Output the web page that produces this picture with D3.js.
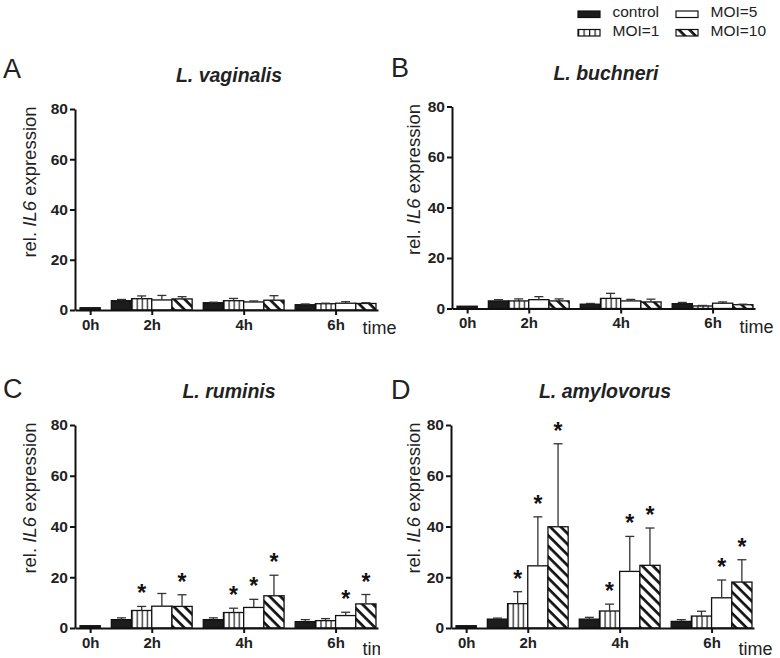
<!DOCTYPE html>
<html><head><meta charset="utf-8">
<script src="https://cdn.jsdelivr.net/npm/d3@7"></script>
<style>
body{margin:0;background:#fff}
svg{display:block;font-family:Arial,"Liberation Sans",sans-serif}
</style>
</head><body>
<svg id="chart" width="780" height="658"></svg>
<script>
// ---------------- data ----------------
const timeLabels = ["0h", "2h", "4h", "6h"];
const seriesNames = ["control", "MOI=1", "MOI=5", "MOI=10"];
const speciesTitles = ["L. vaginalis", "L. buchneri", "L. ruminis", "L. amylovorus"];
const panelLetters = ["A", "B", "C", "D"];
const yTickValues = [0, 20, 40, 60, 80];
const xAxisName = "time";

// rows: control, MOI=1, MOI=5, MOI=10 ; columns: 0h, 2h, 4h, 6h (null = not measured)
const vaginalisMean = [[0.9, 3.7, 2.9, 2.1], [null, 4.5, 3.7, 2.5], [null, 4.0, 3.2, 2.7], [null, 4.4, 3.9, 2.6]];
const vaginalisSD   = [[0.0, 0.5, 0.2, 0.3], [null, 1.1, 0.9, 0.2], [null, 1.8, 0.4, 0.6], [null, 0.9, 1.8, 0.3]];
const vaginalisSig  = [[0, 0, 0, 0], [0, 0, 0, 0], [0, 0, 0, 0], [0, 0, 0, 0]];

const buchneriMean = [[0.9, 3.0, 1.7, 1.9], [null, 3.0, 4.0, 1.0], [null, 3.5, 3.0, 2.1], [null, 3.0, 2.6, 1.5]];
const buchneriSD   = [[0.0, 0.5, 0.3, 0.5], [null, 0.8, 2.0, 0.2], [null, 1.2, 0.6, 0.5], [null, 0.8, 1.1, 0.2]];
const buchneriSig  = [[0, 0, 0, 0], [0, 0, 0, 0], [0, 0, 0, 0], [0, 0, 0, 0]];

const ruminisMean = [[0.9, 3.3, 3.3, 2.5], [null, 6.9, 6.1, 2.9], [null, 8.6, 8.1, 4.9], [null, 8.5, 12.7, 9.5]];
const ruminisSD   = [[0.0, 0.7, 0.7, 0.8], [null, 1.6, 1.7, 0.8], [null, 5.0, 3.2, 1.3], [null, 4.6, 8.1, 3.7]];
const ruminisSig  = [[0, 0, 0, 0], [0, 1, 1, 0], [0, 0, 1, 1], [0, 1, 1, 1]];

const amylovorusMean = [[0.9, 3.5, 3.5, 2.6], [null, 9.6, 6.7, 4.7], [null, 24.5, 22.3, 11.9], [null, 39.9, 24.7, 18.1]];
const amylovorusSD   = [[0.0, 0.4, 0.7, 0.7], [null, 4.7, 2.7, 1.9], [null, 19.3, 13.8, 7.0], [null, 32.7, 14.7, 8.8]];
const amylovorusSig  = [[0, 0, 0, 0], [0, 1, 1, 0], [0, 1, 1, 1], [0, 1, 1, 1]];

// ---------------- layout ----------------
const panels = [
  {mean: vaginalisMean, sd: vaginalisSD, sig: vaginalisSig, axisX: 75, y0: 310, y80: 109, letterX: 3, letterY: 78, labelX: 36, clipR: null, timeDy: 24},
  {mean: buchneriMean, sd: buchneriSD, sig: buchneriSig, axisX: 452, y0: 308.5, y80: 106.5, letterX: 391, letterY: 77, labelX: 420, clipR: null, timeDy: 24},
  {mean: ruminisMean, sd: ruminisSD, sig: ruminisSig, axisX: 75, y0: 628, y80: 425, letterX: 3, letterY: 398, labelX: 36, clipR: 380, timeDy: 27},
  {mean: amylovorusMean, sd: amylovorusSD, sig: amylovorusSig, axisX: 451, y0: 628, y80: 425, letterX: 391, letterY: 399, labelX: 420, clipR: null, timeDy: 27}
];
const BAR_PX = 20.2;
const GAP = 0.55;           // gap between time groups, in bar widths
const X_MIN = -0.25, X_MAX = 14.75;
const INK = "#111";

const svg = d3.select("#chart");
const defs = svg.append("defs");

// vertical stripes (MOI=1)
const vp = defs.append("pattern").attr("id", "vstripe")
  .attr("patternUnits", "objectBoundingBox").attr("width", 0.25).attr("height", 1);
vp.append("rect").attr("width", 100).attr("height", 3000).attr("fill", "#fff");
vp.append("line").attr("x1", 0.6).attr("x2", 0.6).attr("y1", 0).attr("y2", 3000)
  .attr("stroke", INK).attr("stroke-width", 1.2);

// diagonal hatching (MOI=10)
const HS = 7.5;
const hp = defs.append("pattern").attr("id", "hatch")
  .attr("patternUnits", "userSpaceOnUse").attr("width", HS).attr("height", HS)
  .attr("patternTransform", "rotate(-45)");
hp.append("rect").attr("width", HS).attr("height", HS).attr("fill", "#fff");
hp.append("line").attr("x1", 1.5).attr("x2", 1.5).attr("y1", -1).attr("y2", HS + 1)
  .attr("stroke", INK).attr("stroke-width", 2.7);

const fills = ["#1c1c1c", "url(#vstripe)", "#ffffff", "url(#hatch)"];

function groupStart(t) { return t === 0 ? 0 : 1 + GAP + (t - 1) * (4 + GAP); }
function groupCenter(t) { return t === 0 ? 0.5 : groupStart(t) + 2; }

panels.forEach((p, pi) => {
  const g = svg.append("g");
  if (p.clipR) {
    defs.append("clipPath").attr("id", "clip" + pi).append("rect")
      .attr("x", 0).attr("y", 0).attr("width", p.clipR).attr("height", 658);
    g.attr("clip-path", "url(#clip" + pi + ")");
  }
  const x = d3.scaleLinear().domain([X_MIN, X_MAX])
    .range([p.axisX, p.axisX + (X_MAX - X_MIN) * BAR_PX]);
  const y = d3.scaleLinear().domain([0, 80]).range([p.y0, p.y80]);

  // build bar records
  const bars = [];
  p.mean.forEach((row, s) => row.forEach((v, t) => {
    if (v == null) return;
    const slot = t === 0 ? 0 : groupStart(t) + s;
    bars.push({s, t, v, sd: p.sd[s][t], sig: p.sig[s][t], slot});
  }));

  // bars
  g.selectAll("rect.bar").data(bars).join("rect").attr("class", "bar")
    .attr("x", d => x(d.slot)).attr("width", d => x(d.slot + 1) - x(d.slot))
    .attr("y", d => y(d.v)).attr("height", d => y(0) - y(d.v))
    .attr("fill", d => fills[d.s]).attr("stroke", INK).attr("stroke-width", 1.3);

  // error bars (upper only)
  const eb = g.selectAll("g.err").data(bars.filter(d => d.sd > 0)).join("g").attr("class", "err")
    .attr("stroke", "#333").attr("stroke-width", 1.3);
  eb.append("line")
    .attr("x1", d => x(d.slot + 0.5)).attr("x2", d => x(d.slot + 0.5))
    .attr("y1", d => y(d.v)).attr("y2", d => y(d.v + d.sd));
  eb.append("line")
    .attr("x1", d => x(d.slot + 0.5) - 4.5).attr("x2", d => x(d.slot + 0.5) + 4.5)
    .attr("y1", d => y(d.v + d.sd)).attr("y2", d => y(d.v + d.sd));

  // significance stars
  g.selectAll("text.star").data(bars.filter(d => d.sig)).join("text").attr("class", "star")
    .attr("x", d => x(d.slot + 0.5)).attr("y", d => y(d.v + d.sd) - 5)
    .attr("text-anchor", "middle").attr("font-size", 23).attr("font-weight", "bold")
    .attr("fill", INK).text("*");

  // y axis
  const ya = g.append("g").attr("transform", `translate(${p.axisX},0)`)
    .call(d3.axisLeft(y).tickValues(yTickValues).tickSize(5).tickSizeOuter(0).tickPadding(2));
  ya.select(".domain").attr("stroke", INK).attr("stroke-width", 2);
  ya.selectAll(".tick line").attr("stroke", INK).attr("stroke-width", 2);
  ya.selectAll(".tick text").attr("font-size", 15.5).attr("font-weight", "bold")
    .attr("font-family", "Arial, 'Liberation Sans', sans-serif").attr("fill", "#222");

  // x axis
  const xa = g.append("g").attr("transform", `translate(0,${p.y0})`)
    .call(d3.axisBottom(x).tickValues(timeLabels.map((_, t) => groupCenter(t)))
      .tickFormat((d, i) => timeLabels[i]).tickSize(5).tickSizeOuter(0).tickPadding(4));
  xa.select(".domain").attr("stroke", INK).attr("stroke-width", 2);
  xa.selectAll(".tick line").attr("stroke", INK).attr("stroke-width", 2);
  xa.selectAll(".tick text").attr("font-size", 15).attr("font-weight", "bold")
    .attr("font-family", "Arial, 'Liberation Sans', sans-serif").attr("fill", "#222");

  // "time" label
  g.append("text").attr("x", x(groupCenter(3)) + 27).attr("y", p.y0 + p.timeDy)
    .attr("font-size", 18).attr("fill", "#222").text(xAxisName);

  // y label
  const yl = g.append("text")
    .attr("transform", `translate(${p.labelX},${p.y80 + 73}) rotate(-90)`)
    .attr("text-anchor", "middle").attr("font-size", 18.5).attr("fill", "#222");
  yl.append("tspan").text("rel. ");
  yl.append("tspan").attr("font-style", "italic").text("IL6");
  yl.append("tspan").text(" expression");

  // title
  g.append("text").attr("x", p.axisX + 154).attr("y", p.y80 - 27)
    .attr("text-anchor", "middle").attr("font-size", 19.5).attr("font-weight", "bold")
    .attr("font-style", "italic").attr("fill", "#222").text(speciesTitles[pi]);

  // panel letter
  svg.append("text").attr("x", p.letterX).attr("y", p.letterY)
    .attr("font-size", 27).attr("fill", "#222").text(panelLetters[pi]);
});

// legend
const legendPos = [[578, 11], [578, 29.5], [676, 11], [676, 29.5]];
const lg = svg.append("g");
seriesNames.forEach((name, s) => {
  const [lx, ly] = legendPos[s];
  lg.append("rect").attr("x", lx).attr("y", ly).attr("width", 22).attr("height", 6.5)
    .attr("fill", fills[s]).attr("stroke", INK).attr("stroke-width", 1.2);
  lg.append("text").attr("x", lx + 34.5).attr("y", ly + 6.3)
    .attr("font-size", 15.5).attr("fill", "#222").text(name);
});
</script>
</body></html>
